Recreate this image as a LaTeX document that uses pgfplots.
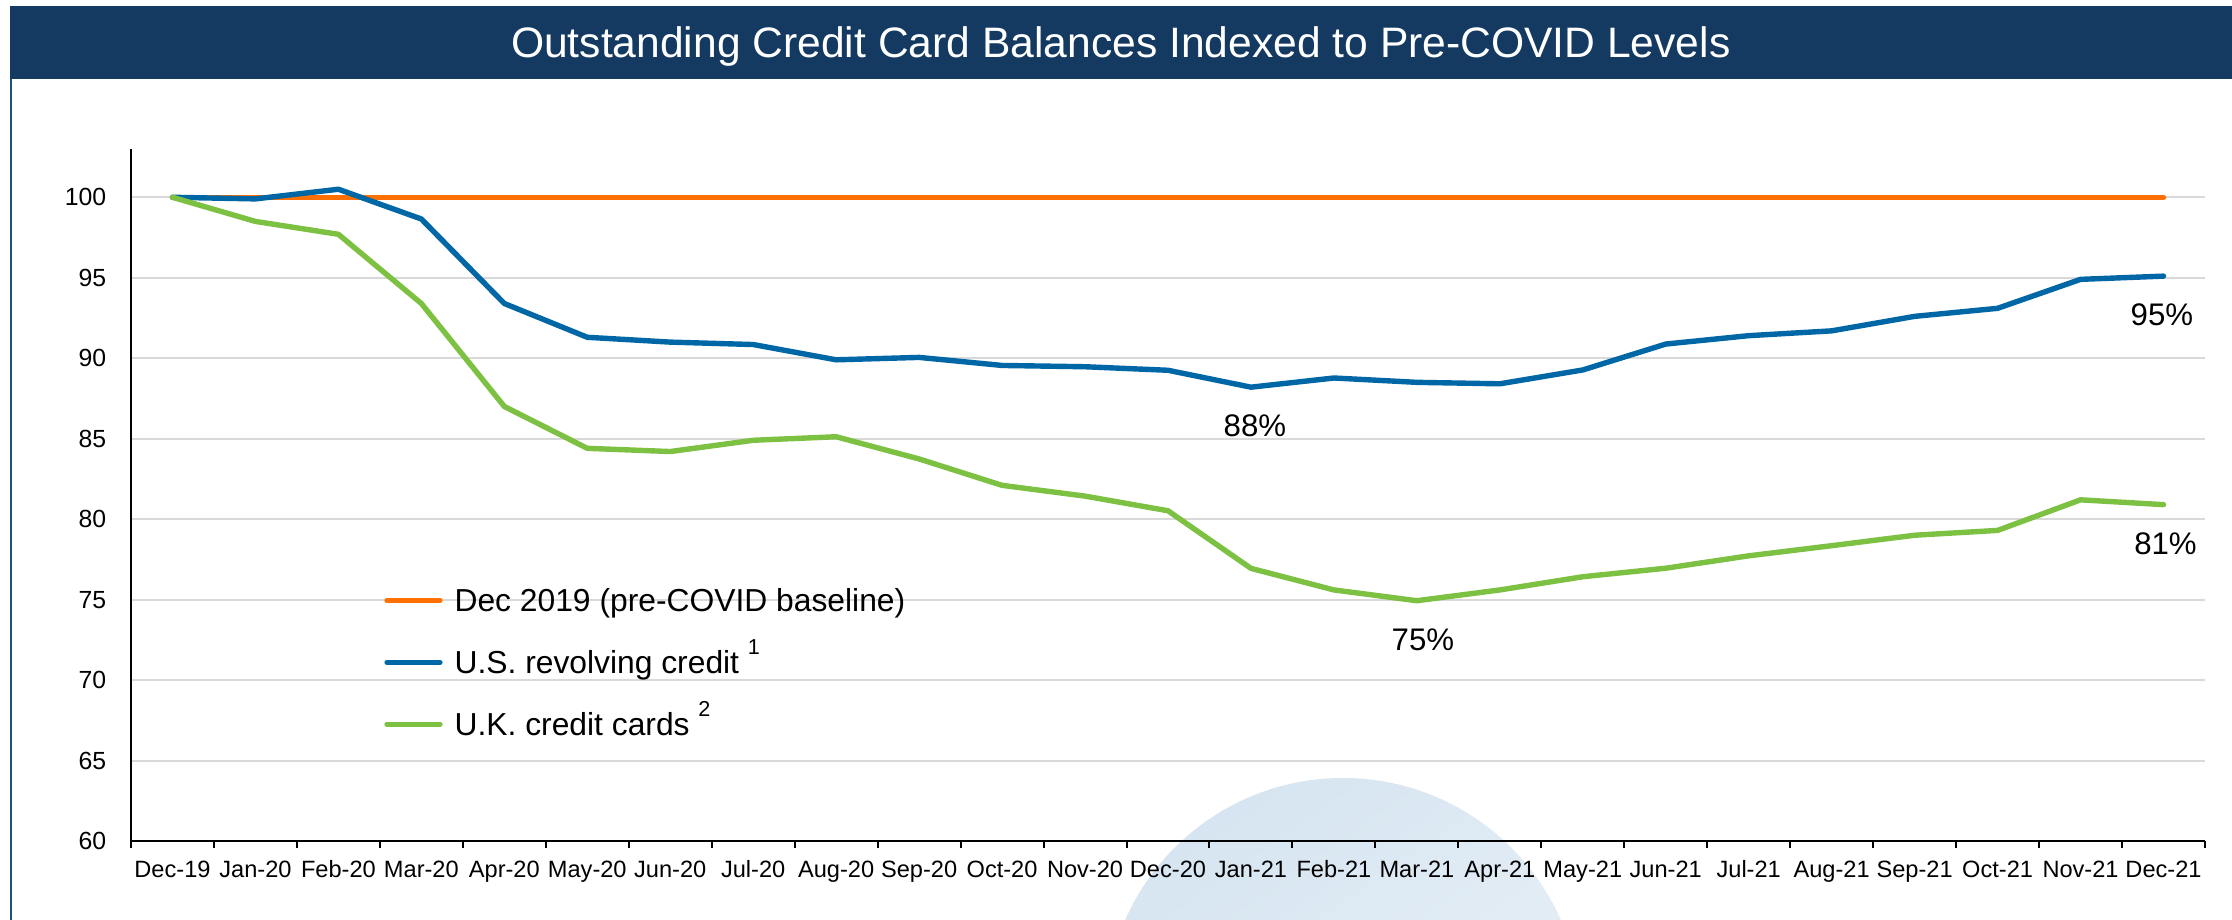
\documentclass[border=0pt]{standalone}
\usepackage{pgfplots}
\pgfplotsset{compat=1.18}
\usepackage{fontspec}
\setmainfont{Liberation Sans}
\definecolor{navy}{RGB}{21,58,97}
\definecolor{framec}{RGB}{31,78,121}
\definecolor{cOrange}{RGB}{255,112,0}
\definecolor{cBlue}{RGB}{0,103,166}
\definecolor{cGreen}{RGB}{125,193,67}
\definecolor{gridc}{RGB}{217,217,217}
\definecolor{circA}{RGB}{214,229,241}
\definecolor{circB}{RGB}{236,242,248}
\begin{document}
\begin{tikzpicture}
\path[use as bounding box, fill=white] (0,0) rectangle (558pt,230pt);
\begin{scope}
\clip (0,0) rectangle (558pt,230pt);
\shade[top color=circA, bottom color=circB, shading angle=35] (335.75pt,-24pt) circle (59.5pt);
\end{scope}
\fill[navy] (2.5pt,210.25pt) rectangle (558pt,228.5pt);
\draw[framec, line width=0.55pt] (2.75pt,0pt) -- (2.75pt,210.25pt);
\node[white, font=\fontsize{10.65}{12}\selectfont, anchor=base, inner sep=0pt] at (280.2pt,215.6pt) {Outstanding Credit Card Balances Indexed to Pre-COVID Levels};
\begin{axis}[
  at={(32.75pt,19.75pt)}, anchor=south west,
  scale only axis, width=518.5pt, height=173pt,
  xmin=-0.5, xmax=24.5, ymin=60, ymax=103,
  axis x line=bottom, axis y line=left,
  x axis line style={-, line width=0.65pt},
  y axis line style={-, line width=0.5pt},
  xtick={0,...,24},
  xticklabels={Dec-19,Jan-20,Feb-20,Mar-20,Apr-20,May-20,Jun-20,Jul-20,Aug-20,Sep-20,Oct-20,Nov-20,Dec-20,Jan-21,Feb-21,Mar-21,Apr-21,May-21,Jun-21,Jul-21,Aug-21,Sep-21,Oct-21,Nov-21,Dec-21},
  minor xtick={-0.5,0.5,...,24.5},
  ytick={60,65,...,100},
  major tick length=0pt,
  minor tick length=1.75pt,
  tick align=outside,
  minor tick style={black, line width=0.5pt},
  ymajorgrids, grid style={gridc, line width=0.5pt},
  /pgf/number format/assume math mode=true,
  xticklabel style={font=\fontsize{5.9}{7}\selectfont, anchor=base, yshift=-9.2pt, inner sep=0pt},
  yticklabel style={font=\fontsize{6.2}{7}\selectfont, anchor=east, inner sep=0pt, xshift=-6pt},
  legend style={at={(0.1218,0.3795)}, anchor=north west, draw=none, fill=none, inner sep=0pt,
    font=\fontsize{7.95}{9}\selectfont, row sep=4.75pt, column sep=3pt,
    nodes={inner sep=0pt, text height=8.2pt, text depth=2.5pt}},
  legend cell align=left,
  legend image code/.code={\draw[#1, line width=1.25pt, line cap=round] (0pt,0pt) -- (13.3pt,0pt);},
]
\addplot[cOrange, line width=1.35pt, line cap=round, line join=round] coordinates {
(0,100) (1,100) (2,100) (3,100) (4,100) (5,100) (6,100) (7,100) (8,100) (9,100) (10,100) (11,100) (12,100)
(13,100) (14,100) (15,100) (16,100) (17,100) (18,100) (19,100) (20,100) (21,100) (22,100) (23,100) (24,100)};
\addlegendentry{Dec 2019 (pre-COVID baseline)}
\addplot[cBlue, line width=1.35pt, line cap=round, line join=round] coordinates {
(0,100) (1,99.9) (2,100.5) (3,98.65) (4,93.4) (5,91.3) (6,91.0) (7,90.85) (8,89.9) (9,90.05) (10,89.55) (11,89.47) (12,89.25)
(13,88.2) (14,88.77) (15,88.5) (16,88.41) (17,89.27) (18,90.88) (19,91.4) (20,91.7) (21,92.6) (22,93.1) (23,94.9) (24,95.1)};
\addlegendentry{U.S. revolving credit \raisebox{4.7pt}{\fontsize{5.4}{6}\selectfont 1}}
\addplot[cGreen, line width=1.35pt, line cap=round, line join=round] coordinates {
(0,100) (1,98.5) (2,97.7) (3,93.4) (4,87.0) (5,84.4) (6,84.2) (7,84.9) (8,85.12) (9,83.74) (10,82.1) (11,81.43) (12,80.52)
(13,76.94) (14,75.6) (15,74.93) (16,75.6) (17,76.42) (18,76.95) (19,77.72) (20,78.35) (21,79.0) (22,79.3) (23,81.2) (24,80.9)};
\addlegendentry{U.K. credit cards \raisebox{4.7pt}{\fontsize{5.4}{6}\selectfont 2}}
\node[anchor=base, inner sep=0pt, font=\fontsize{7.8}{9}\selectfont, xshift=1pt, yshift=-12.4pt] at (axis cs:13,88.2) {88\%};
\node[anchor=base, inner sep=0pt, font=\fontsize{7.8}{9}\selectfont, xshift=1.5pt, yshift=-12.4pt] at (axis cs:15,74.93) {75\%};
\node[anchor=base, inner sep=0pt, font=\fontsize{7.8}{9}\selectfont, xshift=-0.4pt, yshift=-12.4pt] at (axis cs:24,95.1) {95\%};
\node[anchor=base, inner sep=0pt, font=\fontsize{7.8}{9}\selectfont, xshift=0.5pt, yshift=-12.4pt] at (axis cs:24,80.9) {81\%};
\end{axis}
\end{tikzpicture}
\end{document}
